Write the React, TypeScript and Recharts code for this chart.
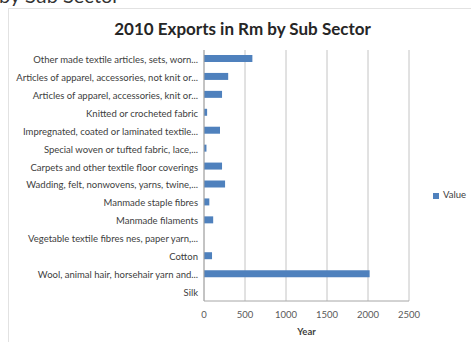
import React from "react";
import {
  Bar,
  BarChart,
  CartesianGrid,
  Legend,
  XAxis,
  YAxis,
} from "recharts";

// categories, top to bottom as they sit on the chart
const subSectors = [
  "Other made textile articles, sets, worn...",
  "Articles of apparel, accessories, not knit or...",
  "Articles of apparel, accessories, knit or...",
  "Knitted or crocheted fabric",
  "Impregnated, coated or laminated textile...",
  "Special woven or tufted fabric, lace,...",
  "Carpets and other textile floor coverings",
  "Wadding, felt, nonwovens, yarns, twine,...",
  "Manmade staple fibres",
  "Manmade filaments",
  "Vegetable textile fibres nes, paper yarn,...",
  "Cotton",
  "Wool, animal hair, horsehair yarn and...",
  "Silk",
];

const exportValues = [590, 295, 220, 38, 195, 30, 220, 257, 65, 112, 0, 98, 2020, 0];

const xTicks = [0, 500, 1000, 1500, 2000, 2500];

const FONT = "Lato, 'Open Sans', sans-serif";

// single-line category label (the default tick wraps long names)
const SectorTick = (props: any) => {
  const { x, y, payload } = props;
  return (
    <text
      x={x}
      y={y}
      dy={4}
      textAnchor="end"
      fontSize={9.5}
      fill="#404040"
      fontFamily={FONT}
    >
      {payload.value}
    </text>
  );
};

const App: React.FC = () => {
  const chartData = subSectors.map((name, i) => ({
    name,
    Value: exportValues[i],
  }));

  return (
    <div
      style={{
        position: "absolute",
        left: 0,
        top: 0,
        width: 471,
        height: 342,
        overflow: "hidden",
        background: "#ffffff",
        fontFamily: FONT,
      }}
    >
      {/* tail of the page heading above, cut off by the crop */}
      <svg width={471} height={20} style={{ position: "absolute", left: 0, top: 0 }}>
        <text x={-1} y={3} fontSize={20} fill="#333333" fontFamily={FONT}>
          by Sub Sector
        </text>
      </svg>

      {/* chart frame */}
      <div
        style={{
          position: "absolute",
          left: 8,
          top: 8,
          width: 480,
          height: 360,
          borderLeft: "1px solid #e2e2e2",
          borderTop: "1px solid #e2e2e2",
        }}
      />

      <div
        style={{
          position: "absolute",
          left: 0,
          top: 18,
          width: 471,
          textAlign: "center",
        }}
      >
        <span
          style={{
            display: "inline-block",
            marginLeft: 14,
            fontSize: 17,
            fontWeight: 700,
            color: "#262626",
          }}
        >
          2010 Exports in Rm by Sub Sector
        </span>
      </div>

      <div style={{ position: "absolute", left: 0, top: 0 }}>
        <BarChart
          width={471}
          height={342}
          data={chartData}
          layout="vertical"
          margin={{ top: 50, right: 62, bottom: 0, left: 0 }}
          barSize={7}
        >
          <CartesianGrid horizontal={false} stroke="#c4c4c4" />
          <XAxis
            type="number"
            domain={[0, 2500]}
            ticks={xTicks}
            height={41}
            axisLine={{ stroke: "#a6a6a6" }}
            tickLine={false}
            tickMargin={4}
            tick={{ fontSize: 9.5, fill: "#595959", fontFamily: FONT }}
            label={{
              value: "Year",
              position: "insideBottom",
              offset: 7,
              fontSize: 9.5,
              fontWeight: 700,
              fill: "#404040",
              fontFamily: FONT,
            }}
          />
          <YAxis
            type="category"
            dataKey="name"
            width={204}
            interval={0}
            axisLine={{ stroke: "#a6a6a6" }}
            tickLine={false}
            tickMargin={0}
            tick={<SectorTick />}
          />
          <Legend
            layout="horizontal"
            align="center"
            verticalAlign="middle"
            iconType="square"
            iconSize={6}
            wrapperStyle={{ left: 433, top: 189, width: "auto", fontSize: 9.5 }}
            formatter={(value: string) => (
              <span style={{ color: "#404040", fontFamily: FONT }}>{value}</span>
            )}
          />
          <Bar dataKey="Value" fill="#4f81bd" isAnimationActive={false} />
        </BarChart>
      </div>
    </div>
  );
};

export default App;
